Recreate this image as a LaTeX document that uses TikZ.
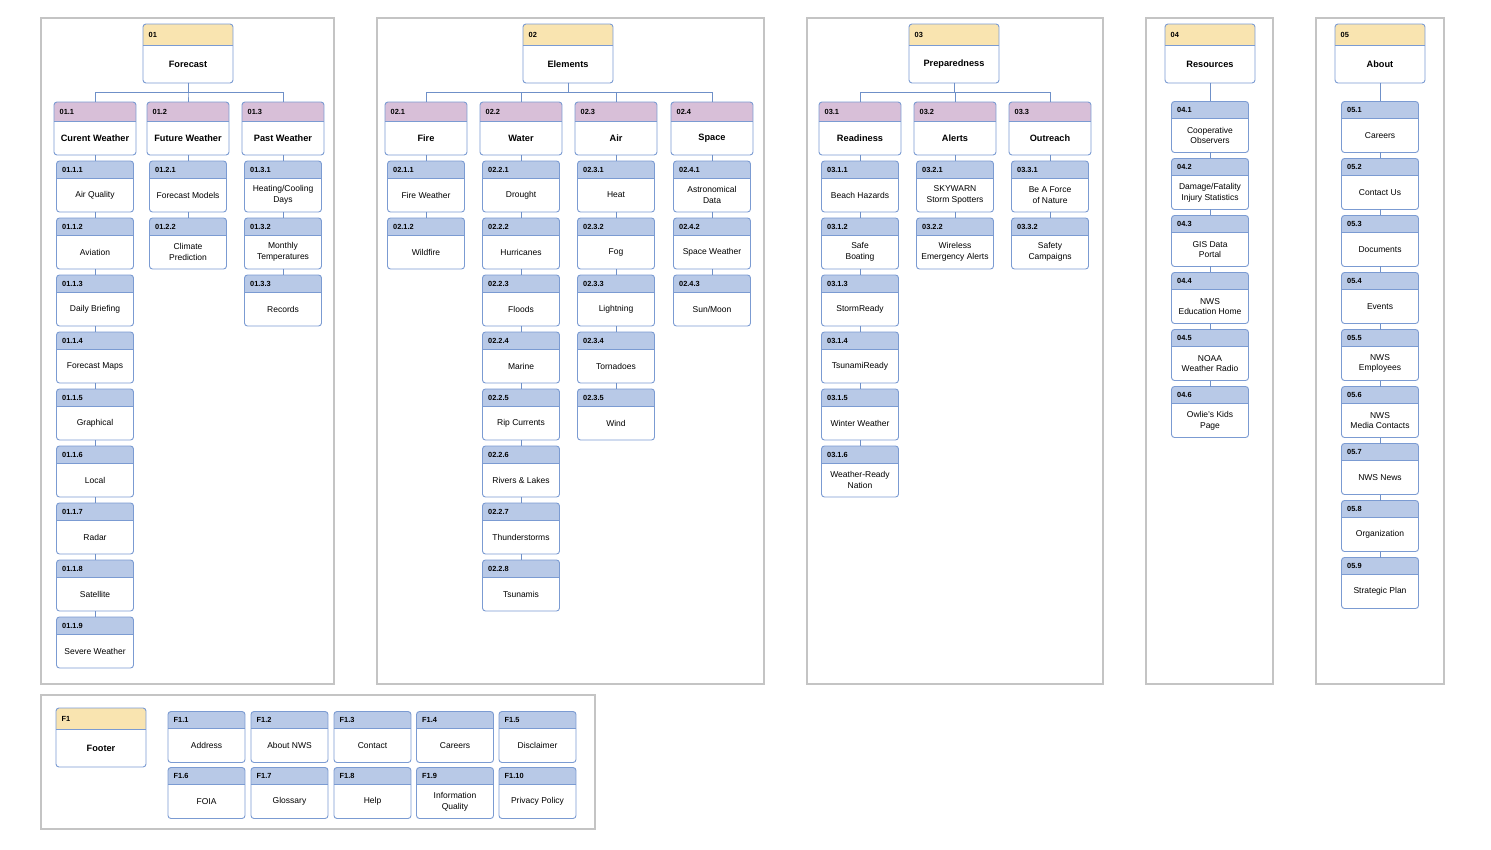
\documentclass[tikz,border=0pt]{standalone}
\usepackage{fontspec}
\setmainfont{Liberation Sans}
\definecolor{hyel}{HTML}{F9E4B0}
\definecolor{hpink}{HTML}{D8BFD8}
\definecolor{hblue}{HTML}{B8C9E7}
\definecolor{cborder}{HTML}{7B9BD2}
\definecolor{cline}{HTML}{6F90C8}
\definecolor{pgray}{HTML}{C4C4C4}
\tikzset{
 cardframe/.style={draw=cborder, line width=0.9pt, rounded corners=3pt, inner sep=0pt, outer sep=0pt},
 sepline/.style={draw=cborder, line width=0.9pt},
 idtext/.style={font=\fontsize{7.4}{8}\selectfont\bfseries, inner sep=0pt, anchor=west},
 bigtext/.style={font=\fontsize{9.2}{11}\selectfont\bfseries, align=center, inner sep=0pt},
 leaftext/.style={font=\fontsize{8.5}{10.7}\selectfont, align=center, inner sep=0pt},
 cardtext/.style={bigtext},
 conn/.style={draw=cline, line width=1pt},
 panel/.style={draw=pgray, line width=1.1pt},
}
% #1 name #2 x #3 y #4 w #5 h #6 header h #7 colour #8 id #9 text
\newcommand\nwscard[9]{%
 \begin{scope}
  \clip[rounded corners=3pt] (#2,#3) rectangle ++(#4,#5);
  \fill[white] (#2,#3) rectangle ++(#4,#5);
  \fill[#7] (#2,#3) rectangle ++(#4,#6);
 \end{scope}
 \draw[sepline] (#2,#3+#6) -- ++(#4,0);
 \node[cardframe, minimum width=#4pt, minimum height=#5pt, anchor=north west] (#1) at (#2,#3) {};
 \node[idtext] at (#2+5.5,#3+#6/2) {#8};
 \node[cardtext] at (#2+#4/2,#3+#6/2+#5/2) {#9};
}
\newcommand\cardT[5]{\tikzset{cardtext/.style={bigtext}}\nwscard{#1}{#2}{#3}{90}{59}{21}{hyel}{#4}{#5}}
\newcommand\cardM[5]{\tikzset{cardtext/.style={bigtext}}\nwscard{#1}{#2}{#3}{82}{53}{19}{hpink}{#4}{#5}}
\newcommand\cardL[5]{\tikzset{cardtext/.style={leaftext}}\nwscard{#1}{#2}{#3}{77}{51}{17}{hblue}{#4}{#5}}
\newcommand\vlink[2]{\draw[conn] (#1.south) -- (#1.south |- #2.north);}
\newcommand\blink[2]{\draw[conn] (#1.south) -- ++(0,10) -| (#2.north);}
\begin{document}
\begin{tikzpicture}[x=1pt,y=-1pt]
\useasboundingbox (0,0) rectangle (1491,850);
\fill[white] (0,0) rectangle (1491,850);
% panels
\draw[panel] (41,18) rectangle (334,684);
\draw[panel] (377,18) rectangle (764,684);
\draw[panel] (807,18) rectangle (1103,684);
\draw[panel] (1146,18) rectangle (1273,684);
\draw[panel] (1316,18) rectangle (1444,684);
\draw[panel] (41,695) rectangle (595,829);
% ---------- panel 1
\cardT{n01}{143}{24}{01}{Forecast}
\cardM{n01-1}{54}{102}{01.1}{Curent Weather}
\cardM{n01-2}{147}{102}{01.2}{Future Weather}
\cardM{n01-3}{242}{102}{01.3}{Past Weather}
\cardL{n01-1-1}{56.5}{161}{01.1.1}{Air Quality}
\cardL{n01-1-2}{56.5}{218}{01.1.2}{Aviation}
\cardL{n01-1-3}{56.5}{275}{01.1.3}{Daily Briefing}
\cardL{n01-1-4}{56.5}{332}{01.1.4}{Forecast Maps}
\cardL{n01-1-5}{56.5}{389}{01.1.5}{Graphical}
\cardL{n01-1-6}{56.5}{446}{01.1.6}{Local}
\cardL{n01-1-7}{56.5}{503}{01.1.7}{Radar}
\cardL{n01-1-8}{56.5}{560}{01.1.8}{Satellite}
\cardL{n01-1-9}{56.5}{617}{01.1.9}{Severe Weather}
\cardL{n01-2-1}{149.5}{161}{01.2.1}{Forecast Models}
\cardL{n01-2-2}{149.5}{218}{01.2.2}{Climate\\Prediction}
\cardL{n01-3-1}{244.5}{161}{01.3.1}{Heating/Cooling\\Days}
\cardL{n01-3-2}{244.5}{218}{01.3.2}{Monthly\\Temperatures}
\cardL{n01-3-3}{244.5}{275}{01.3.3}{Records}
\blink{n01}{n01-1}\blink{n01}{n01-2}\blink{n01}{n01-3}
\vlink{n01-1}{n01-1-1}\vlink{n01-1-1}{n01-1-2}\vlink{n01-1-2}{n01-1-3}\vlink{n01-1-3}{n01-1-4}
\vlink{n01-1-4}{n01-1-5}\vlink{n01-1-5}{n01-1-6}\vlink{n01-1-6}{n01-1-7}\vlink{n01-1-7}{n01-1-8}\vlink{n01-1-8}{n01-1-9}
\vlink{n01-2}{n01-2-1}\vlink{n01-2-1}{n01-2-2}
\vlink{n01-3}{n01-3-1}\vlink{n01-3-1}{n01-3-2}\vlink{n01-3-2}{n01-3-3}
% ---------- panel 2
\cardT{n02}{523}{24}{02}{Elements}
\cardM{n02-1}{385}{102}{02.1}{Fire}
\cardM{n02-2}{480}{102}{02.2}{Water}
\cardM{n02-3}{575}{102}{02.3}{Air}
\cardM{n02-4}{671}{102}{02.4}{Space}
\cardL{n02-1-1}{387.5}{161}{02.1.1}{Fire Weather}
\cardL{n02-1-2}{387.5}{218}{02.1.2}{Wildfire}
\cardL{n02-2-1}{482.5}{161}{02.2.1}{Drought}
\cardL{n02-2-2}{482.5}{218}{02.2.2}{Hurricanes}
\cardL{n02-2-3}{482.5}{275}{02.2.3}{Floods}
\cardL{n02-2-4}{482.5}{332}{02.2.4}{Marine}
\cardL{n02-2-5}{482.5}{389}{02.2.5}{Rip Currents}
\cardL{n02-2-6}{482.5}{446}{02.2.6}{Rivers \& Lakes}
\cardL{n02-2-7}{482.5}{503}{02.2.7}{Thunderstorms}
\cardL{n02-2-8}{482.5}{560}{02.2.8}{Tsunamis}
\cardL{n02-3-1}{577.5}{161}{02.3.1}{Heat}
\cardL{n02-3-2}{577.5}{218}{02.3.2}{Fog}
\cardL{n02-3-3}{577.5}{275}{02.3.3}{Lightning}
\cardL{n02-3-4}{577.5}{332}{02.3.4}{Tornadoes}
\cardL{n02-3-5}{577.5}{389}{02.3.5}{Wind}
\cardL{n02-4-1}{673.5}{161}{02.4.1}{Astronomical\\Data}
\cardL{n02-4-2}{673.5}{218}{02.4.2}{Space Weather}
\cardL{n02-4-3}{673.5}{275}{02.4.3}{Sun/Moon}
\blink{n02}{n02-1}\blink{n02}{n02-2}\blink{n02}{n02-3}\blink{n02}{n02-4}
\vlink{n02-1}{n02-1-1}\vlink{n02-1-1}{n02-1-2}
\vlink{n02-2}{n02-2-1}\vlink{n02-2-1}{n02-2-2}\vlink{n02-2-2}{n02-2-3}\vlink{n02-2-3}{n02-2-4}
\vlink{n02-2-4}{n02-2-5}\vlink{n02-2-5}{n02-2-6}\vlink{n02-2-6}{n02-2-7}\vlink{n02-2-7}{n02-2-8}
\vlink{n02-3}{n02-3-1}\vlink{n02-3-1}{n02-3-2}\vlink{n02-3-2}{n02-3-3}\vlink{n02-3-3}{n02-3-4}\vlink{n02-3-4}{n02-3-5}
\vlink{n02-4}{n02-4-1}\vlink{n02-4-1}{n02-4-2}\vlink{n02-4-2}{n02-4-3}
% ---------- panel 3
\cardT{n03}{909}{24}{03}{Preparedness}
\cardM{n03-1}{819}{102}{03.1}{Readiness}
\cardM{n03-2}{914}{102}{03.2}{Alerts}
\cardM{n03-3}{1009}{102}{03.3}{Outreach}
\cardL{n03-1-1}{821.5}{161}{03.1.1}{Beach Hazards}
\cardL{n03-1-2}{821.5}{218}{03.1.2}{Safe\\Boating}
\cardL{n03-1-3}{821.5}{275}{03.1.3}{StormReady}
\cardL{n03-1-4}{821.5}{332}{03.1.4}{TsunamiReady}
\cardL{n03-1-5}{821.5}{389}{03.1.5}{Winter Weather}
\cardL{n03-1-6}{821.5}{446}{03.1.6}{Weather-Ready\\Nation}
\cardL{n03-2-1}{916.5}{161}{03.2.1}{SKYWARN\\Storm Spotters}
\cardL{n03-2-2}{916.5}{218}{03.2.2}{Wireless\\Emergency Alerts}
\cardL{n03-3-1}{1011.5}{161}{03.3.1}{Be A Force\\of Nature}
\cardL{n03-3-2}{1011.5}{218}{03.3.2}{Safety\\Campaigns}
\blink{n03}{n03-1}\blink{n03}{n03-2}\blink{n03}{n03-3}
\vlink{n03-1}{n03-1-1}\vlink{n03-1-1}{n03-1-2}\vlink{n03-1-2}{n03-1-3}\vlink{n03-1-3}{n03-1-4}\vlink{n03-1-4}{n03-1-5}\vlink{n03-1-5}{n03-1-6}
\vlink{n03-2}{n03-2-1}\vlink{n03-2-1}{n03-2-2}
\vlink{n03-3}{n03-3-1}\vlink{n03-3-1}{n03-3-2}
% ---------- panel 4
\cardT{n04}{1165}{24}{04}{Resources}
\cardL{n04-1}{1171.5}{101.5}{04.1}{Cooperative\\Observers}
\cardL{n04-2}{1171.5}{158.5}{04.2}{Damage/Fatality\\Injury Statistics}
\cardL{n04-3}{1171.5}{215.5}{04.3}{GIS Data\\Portal}
\cardL{n04-4}{1171.5}{272.5}{04.4}{NWS\\Education Home}
\cardL{n04-5}{1171.5}{329.5}{04.5}{NOAA\\Weather Radio}
\cardL{n04-6}{1171.5}{386.5}{04.6}{Owlie's Kids\\Page}
\vlink{n04}{n04-1}\vlink{n04-1}{n04-2}\vlink{n04-2}{n04-3}\vlink{n04-3}{n04-4}\vlink{n04-4}{n04-5}\vlink{n04-5}{n04-6}
% ---------- panel 5
\cardT{n05}{1335}{24}{05}{About}
\cardL{n05-1}{1341.5}{101.5}{05.1}{Careers}
\cardL{n05-2}{1341.5}{158.5}{05.2}{Contact Us}
\cardL{n05-3}{1341.5}{215.5}{05.3}{Documents}
\cardL{n05-4}{1341.5}{272.5}{05.4}{Events}
\cardL{n05-5}{1341.5}{329.5}{05.5}{NWS\\Employees}
\cardL{n05-6}{1341.5}{386.5}{05.6}{NWS\\Media Contacts}
\cardL{n05-7}{1341.5}{443.5}{05.7}{NWS News}
\cardL{n05-8}{1341.5}{500.5}{05.8}{Organization}
\cardL{n05-9}{1341.5}{557.5}{05.9}{Strategic Plan}
\vlink{n05}{n05-1}\vlink{n05-1}{n05-2}\vlink{n05-2}{n05-3}\vlink{n05-3}{n05-4}\vlink{n05-4}{n05-5}
\vlink{n05-5}{n05-6}\vlink{n05-6}{n05-7}\vlink{n05-7}{n05-8}\vlink{n05-8}{n05-9}
% ---------- footer
\cardT{nF1}{56}{708}{F1}{Footer}
\cardL{nF1-1}{168}{711.5}{F1.1}{Address}
\cardL{nF1-2}{251}{711.5}{F1.2}{About NWS}
\cardL{nF1-3}{334}{711.5}{F1.3}{Contact}
\cardL{nF1-4}{416.5}{711.5}{F1.4}{Careers}
\cardL{nF1-5}{499}{711.5}{F1.5}{Disclaimer}
\cardL{nF1-6}{168}{767.5}{F1.6}{FOIA}
\cardL{nF1-7}{251}{767.5}{F1.7}{Glossary}
\cardL{nF1-8}{334}{767.5}{F1.8}{Help}
\cardL{nF1-9}{416.5}{767.5}{F1.9}{Information\\Quality}
\cardL{nF1-10}{499}{767.5}{F1.10}{Privacy Policy}
\end{tikzpicture}
\end{document}
